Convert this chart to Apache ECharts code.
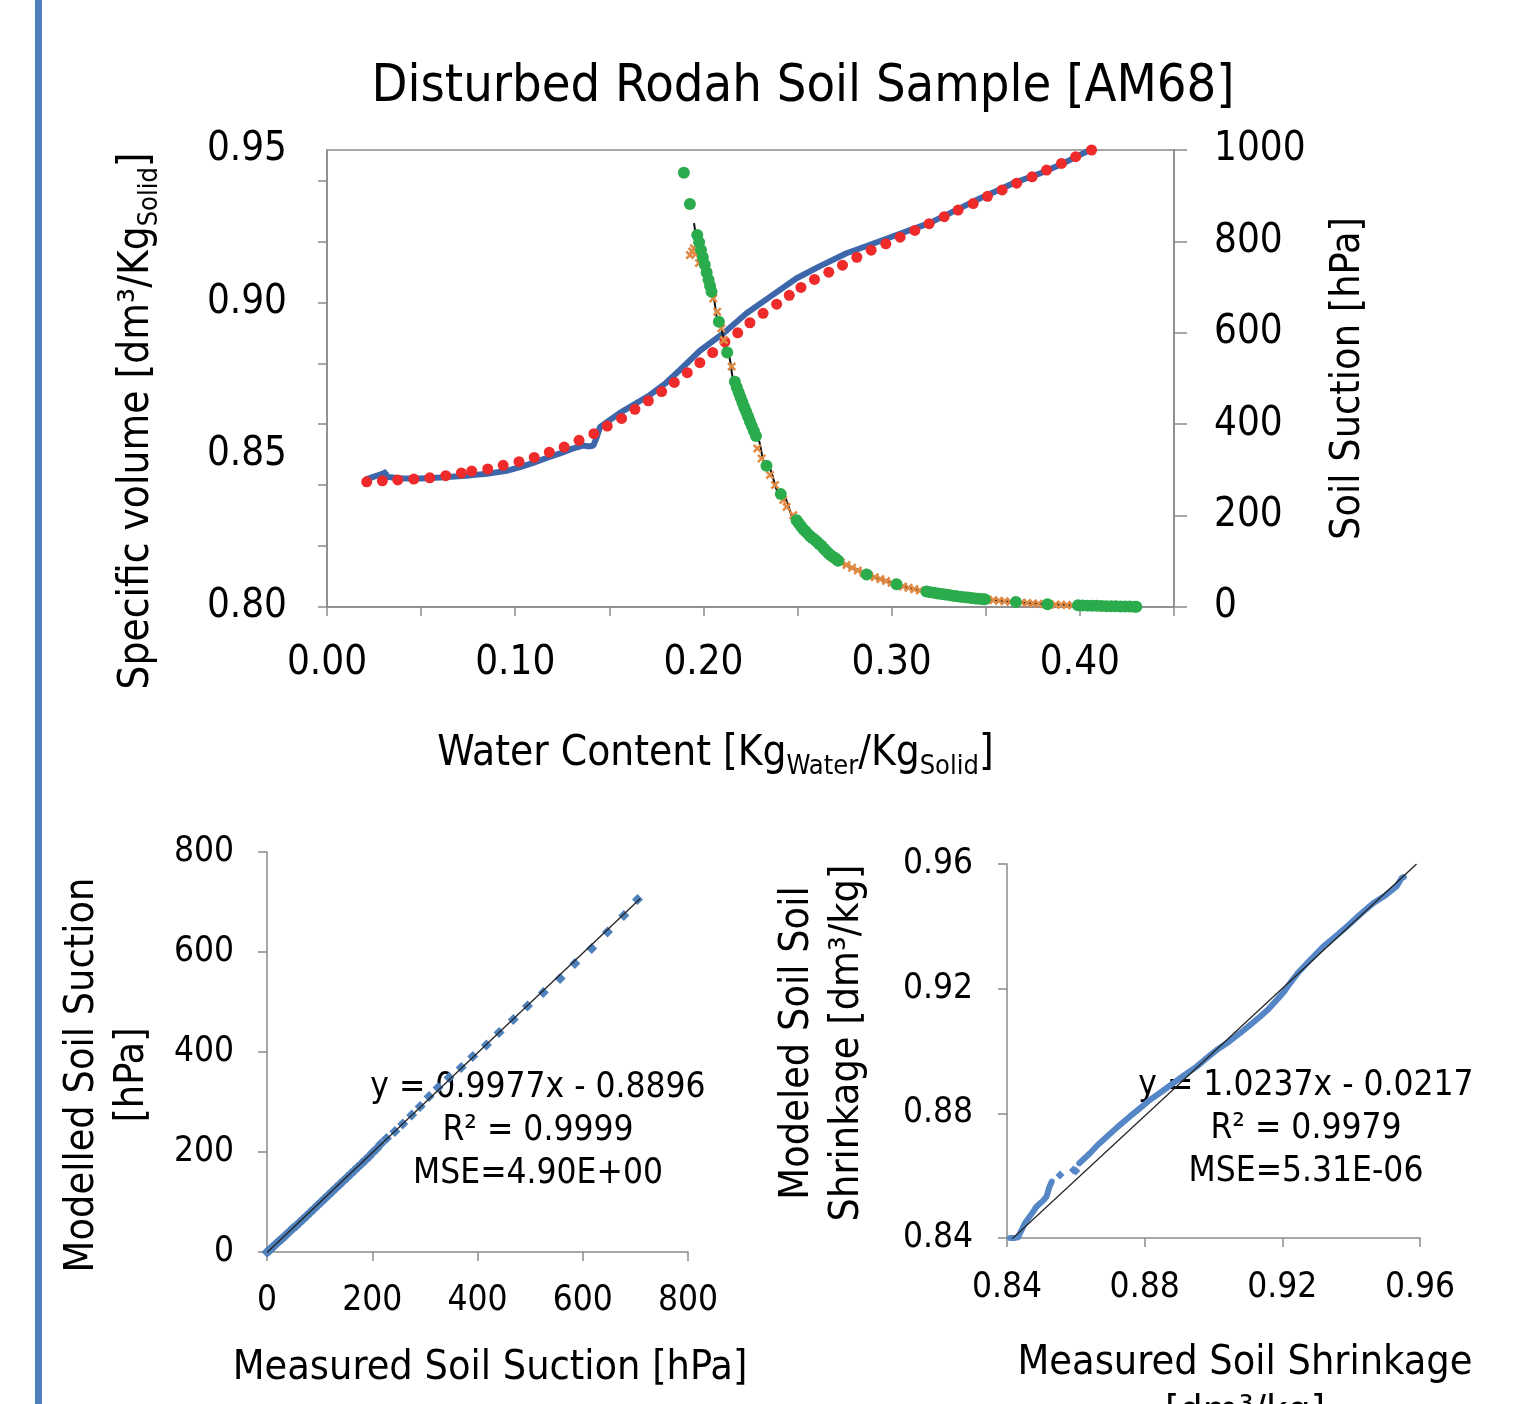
<!DOCTYPE html>
<html><head><meta charset="utf-8">
<script src="https://cdn.jsdelivr.net/npm/echarts@6/dist/echarts.min.js"></script>
<style>html,body{margin:0;padding:0;background:#fff}#c{width:1539px;height:1404px}</style>
</head><body><div id="c"></div><script>
// ---------- DATA ----------
// Top chart: specific volume (left axis) vs water content
const svMeasured = [[0.0205,0.8418],[0.0250,0.8428],[0.0290,0.8436],[0.0317,0.8444],[0.0300,0.8428],[0.0400,0.8422],[0.0500,0.8422],[0.0600,0.8425],[0.0760,0.8432],[0.0850,0.8437],[0.0954,0.8447],[0.1030,0.8460],[0.1095,0.8473],[0.1170,0.8490],[0.1238,0.8504],[0.1300,0.8519],[0.1360,0.8530],[0.1395,0.8527],[0.1415,0.8530],[0.1432,0.8555],[0.1450,0.8590],[0.1490,0.8608],[0.1556,0.8637],[0.1640,0.8668],[0.1716,0.8696],[0.1800,0.8735],[0.1875,0.8778],[0.1981,0.8841],[0.2105,0.8898],[0.2229,0.8964],[0.2353,0.9018],[0.2495,0.9079],[0.2619,0.9119],[0.2760,0.9161],[0.2867,0.9185],[0.3026,0.9221],[0.3097,0.9237],[0.3200,0.9260],[0.3291,0.9287],[0.3380,0.9314],[0.3468,0.9341],[0.3560,0.9366],[0.3645,0.9391],[0.3787,0.9423],[0.3911,0.9456],[0.4017,0.9489],[0.4053,0.9500]];
const svModel = [[0.0211,0.8411],[0.0294,0.8414],[0.0376,0.8417],[0.0461,0.8420],[0.0546,0.8424],[0.0631,0.8431],[0.0714,0.8440],[0.0769,0.8446],[0.0854,0.8453],[0.0936,0.8465],[0.1020,0.8477],[0.1101,0.8491],[0.1181,0.8508],[0.1260,0.8525],[0.1339,0.8547],[0.1418,0.8569],[0.1489,0.8594],[0.1565,0.8619],[0.1636,0.8649],[0.1707,0.8677],[0.1778,0.8707],[0.1845,0.8737],[0.1914,0.8769],[0.1981,0.8802],[0.2049,0.8835],[0.2114,0.8870],[0.2182,0.8900],[0.2247,0.8933],[0.2317,0.8964],[0.2389,0.8994],[0.2456,0.9023],[0.2518,0.9049],[0.2590,0.9075],[0.2666,0.9099],[0.2739,0.9122],[0.2815,0.9148],[0.2891,0.9171],[0.2969,0.9192],[0.3045,0.9214],[0.3123,0.9236],[0.3199,0.9258],[0.3279,0.9281],[0.3353,0.9303],[0.3433,0.9324],[0.3509,0.9348],[0.3587,0.9369],[0.3664,0.9391],[0.3746,0.9412],[0.3823,0.9434],[0.3902,0.9456],[0.3978,0.9478],[0.4062,0.9500]];
// Top chart: soil suction (right axis) vs water content
const suctionMeasuredA = [[0.1896,950],[0.1928,882],[0.1967,814],[0.1977,798],[0.1987,781],[0.1997,765],[0.2007,749],[0.2017,732],[0.2027,716],[0.2035,703],[0.2043,690],[0.2082,624],[0.2126,557],[0.2167,493],[0.2177,481],[0.2187,470],[0.2197,459],[0.2207,448],[0.2217,437],[0.2227,427],[0.2237,417],[0.2247,406],[0.2257,396],[0.2268,385],[0.2279,374],[0.2335,309],[0.2411,247],[0.2495,190],[0.2507,183],[0.2519,176],[0.2531,170],[0.2543,165],[0.2555,160],[0.2567,155],[0.2579,151],[0.2591,147],[0.2603,143],[0.2615,138],[0.2627,134],[0.2639,128],[0.2651,123],[0.2663,118],[0.2675,114],[0.2687,110],[0.2699,107],[0.2711,103],[0.2716,101],[0.2867,71],[0.3026,50],[0.3185,34],[0.3205,32.5],[0.3225,31],[0.3245,29.7],[0.3265,28.4],[0.3285,27.2],[0.3305,26],[0.3325,24.8],[0.3345,23.7],[0.3365,22.6],[0.3385,21.6],[0.3405,20.6],[0.3425,19.6],[0.3445,18.7],[0.3465,17.8],[0.3485,17.1],[0.3495,16.8],[0.3660,11],[0.3828,6],[0.3990,3.6],[0.4015,3.3],[0.4040,3.0],[0.4065,2.7],[0.4090,2.5],[0.4115,2.2],[0.4140,1.9],[0.4165,1.7],[0.4190,1.5],[0.4215,1.3],[0.4240,1.1],[0.4265,0.9],[0.4290,0.7],[0.4300,0.6]];
const suctionMeasuredB = [[0.1928,770],[0.1940,778],[0.1949,785],[0.1958,772],[0.1976,753],[0.2052,675],[0.2073,646],[0.2095,610],[0.2109,584],[0.2150,526],[0.2286,347],[0.2309,325],[0.2353,289],[0.2380,267],[0.2424,234],[0.2442,219],[0.2477,201],[0.2730,98],[0.2760,92],[0.2790,86],[0.2820,80],[0.2850,75],[0.2880,69],[0.2910,65],[0.2940,61],[0.2970,57],[0.3000,53],[0.3030,49],[0.3060,45],[0.3090,42],[0.3120,39],[0.3150,36],[0.3180,34],[0.3510,16.2],[0.3540,15],[0.3570,13.8],[0.3600,12.6],[0.3630,11.6],[0.3660,10.8],[0.3690,9.8],[0.3720,8.8],[0.3750,7.9],[0.3780,7.1],[0.3810,6.3],[0.3840,5.6],[0.3870,5.1],[0.3900,4.7],[0.3930,4.3],[0.3960,3.9],[0.3990,3.6]];
const suctionModel = [[0.1950,840],[0.2000,760],[0.2043,690],[0.2082,624],[0.2126,557],[0.2167,493],[0.2220,434],[0.2279,374],[0.2335,309],[0.2411,247],[0.2495,190],[0.2583,150],[0.2654,121],[0.2716,101],[0.2800,84],[0.2867,71.5],[0.2950,60],[0.3026,49.6],[0.3100,41],[0.3185,33.6],[0.3335,24],[0.3495,16.8],[0.3580,13.5],[0.3660,10.9],[0.3740,8.2],[0.3828,5.8],[0.3910,4.6],[0.3990,3.6],[0.4150,1.8],[0.4300,0.6]];
// Bottom-left: measured vs modelled suction
const suctionCompare = [[0,0],[3,2],[6,5],[10,9],[14,13],[18,17],[23,22],[28,26],[33,31],[38,36],[44,42],[50,48],[56,53],[62,59],[68,65],[75,72],[82,79],[89,86],[96,93],[103,100],[110,107],[117,114],[124,121],[131,128],[138,135],[145,142],[152,149],[159,156],[166,163],[173,170],[180,177],[187,184],[194,191],[201,199],[208,206],[216,216],[227,227],[243,241],[258,256],[275,274],[291,291],[308,311],[325,329],[346,349],[369,369],[391,391],[417,414],[441,439],[468,465],[495,492],[525,519],[557,547],[585,577],[617,607],[647,640],[678,673],[704,705]];
const suctionFit = [0.9977, -0.8896];
const suctionFitRange = [0, 709];
const suctionStats = ['0.9999', '4.90E+00'];
// Bottom-right: measured vs modelled shrinkage
const shrinkBand = [[0.8409,0.8400],[0.8420,0.8400],[0.8432,0.8402],[0.8440,0.8420],[0.8452,0.8447],[0.8470,0.8475],[0.8486,0.8501],[0.8505,0.8520],[0.8515,0.8533],[0.8522,0.8560],[0.8530,0.8581]];
const shrinkBand2 = [[0.8610,0.8640],[0.8641,0.8672],[0.8665,0.8700],[0.8690,0.8725],[0.8720,0.8755],[0.8757,0.8790],[0.8785,0.8815],[0.8815,0.8843],[0.8850,0.8870],[0.8883,0.8897],[0.8915,0.8922],[0.8951,0.8950],[0.8980,0.8977],[0.9009,0.9003],[0.9045,0.9030],[0.9077,0.9057],[0.9105,0.9082],[0.9135,0.9110],[0.9160,0.9135],[0.9184,0.9164],[0.9205,0.9190],[0.9222,0.9217],[0.9245,0.9250],[0.9271,0.9281],[0.9295,0.9308],[0.9319,0.9335],[0.9355,0.9368],[0.9387,0.9399],[0.9425,0.9437],[0.9464,0.9474],[0.9500,0.9500],[0.9532,0.9528],[0.9547,0.9555],[0.9553,0.9558]];
const shrinkIsolated = [[0.8554,0.8602],[0.8593,0.8618],[0.8600,0.8615]];
const shrinkFit = [1.0237, -0.0217];
const shrinkFitRange = [0.8413, 0.959];
const shrinkStats = ['0.9979', '5.31E-06'];
// Tick values
const svTicks = [0.80,0.82,0.84,0.86,0.88,0.90,0.92,0.94];
const svLabels = [0.80,0.85,0.90,0.95];
const wcLabels = [0,0.1,0.2,0.3,0.4];

// ---------- CHART ----------
const FONT = "'DejaVu Sans Condensed','DejaVu Sans',sans-serif";
const AX = '#8a8a8a';
const fitLine = (c, r) => r.map(x => [x, c[0]*x + c[1]]);
const fmtEq = c => 'y = ' + c[0].toFixed(4) + 'x ' + (c[1] < 0 ? '- ' : '+ ') + Math.abs(c[1]).toFixed(4);
const subRich = { sub: { fontSize: 27, verticalAlign: 'bottom', lineHeight: 24, fontFamily: FONT, color: '#000' } };
function axisBase(fs) {
  return {
    axisLine: { show: true, onZero: false, lineStyle: { color: AX, width: 1.5 } },
    axisTick: { show: true, length: 9, lineStyle: { color: AX, width: 1.5 } },
    splitLine: { show: false },
    axisLabel: { fontSize: fs, color: '#000', fontFamily: FONT },
    nameTextStyle: { fontSize: 41, color: '#000', fontFamily: FONT },
    nameLocation: 'middle'
  };
}
const chart = echarts.init(document.getElementById('c'), null, { renderer: 'canvas' });
const option = {
  animation: false,
  backgroundColor: '#fff',
  title: {
    text: 'Disturbed Rodah Soil Sample [AM68]',
    left: 803, top: 61, padding: 0, textAlign: 'center',
    textStyle: { fontSize: 52, fontWeight: 'normal', color: '#000', fontFamily: FONT }
  },
  grid: [
    { left: 327, top: 150, width: 847, height: 457, show: true, borderColor: AX, borderWidth: 1.5, outerBoundsMode: 'none', containLabel: false },
    { left: 267, top: 852, width: 421, height: 400, outerBoundsMode: 'none', containLabel: false },
    { left: 1007, top: 864, width: 413, height: 374, outerBoundsMode: 'none', containLabel: false }
  ],
  xAxis: [
    Object.assign(axisBase(40), {
      gridIndex: 0, type: 'value', min: 0, max: 0.45, interval: 0.05,
      axisLabel: { fontSize: 40, color: '#000', fontFamily: FONT, margin: 37, customValues: wcLabels, formatter: v => v.toFixed(2) },
      name: 'Water Content [Kg{sub|Water}/Kg{sub|Solid}]', nameGap: 121,
      nameTextStyle: { fontSize: 42, color: '#000', fontFamily: FONT, lineHeight: 52, padding: [0, 70, 0, 0], rich: subRich }
    }),
    Object.assign(axisBase(35), {
      gridIndex: 1, type: 'value', min: 0, max: 800, interval: 200,
      axisLabel: { fontSize: 35, color: '#000', fontFamily: FONT, margin: 31 },
      name: 'Measured Soil Suction [hPa]', nameGap: 91,
      nameTextStyle: { fontSize: 41, color: '#000', fontFamily: FONT, lineHeight: 50, padding: [0, 0, 0, 25] }
    }),
    Object.assign(axisBase(35), {
      gridIndex: 2, type: 'value', min: 0.84, max: 0.96, interval: 0.04,
      axisLabel: { fontSize: 35, color: '#000', fontFamily: FONT, margin: 32, formatter: v => v.toFixed(2) },
      name: 'Measured Soil Shrinkage\n[dm³/kg]', nameGap: 100,
      nameTextStyle: { fontSize: 41, color: '#000', fontFamily: FONT, lineHeight: 50, padding: [0, 0, 0, 63] }
    })
  ],
  yAxis: [
    Object.assign(axisBase(40), {
      gridIndex: 0, type: 'value', min: 0.80, max: 0.95, interval: 0.05, position: 'left',
      axisTick: { show: true, length: 9, customValues: svTicks, lineStyle: { color: AX, width: 1.5 } },
      axisLabel: { fontSize: 40, color: '#000', fontFamily: FONT, margin: 40, customValues: svLabels, formatter: v => v.toFixed(2) },
      name: 'Specific volume [dm³/Kg{sub|Solid}]', nameGap: 164, nameRotate: 90,
      nameTextStyle: { fontSize: 42, color: '#000', fontFamily: FONT, lineHeight: 52, padding: [0, 85, 0, 0], rich: subRich }
    }),
    Object.assign(axisBase(40), {
      gridIndex: 0, type: 'value', min: 0, max: 1000, interval: 200, position: 'right',
      axisTick: { show: true, length: 13, lineStyle: { color: AX, width: 1.5 } },
      axisLabel: { fontSize: 40, color: '#000', fontFamily: FONT, margin: 40, formatter: v => String(v) },
      name: 'Soil Suction [hPa]', nameGap: 150, nameRotate: 90,
      nameTextStyle: { fontSize: 41, color: '#000', fontFamily: FONT, lineHeight: 48 }
    }),
    Object.assign(axisBase(35), {
      gridIndex: 1, type: 'value', min: 0, max: 800, interval: 200,
      axisLabel: { fontSize: 35, color: '#000', fontFamily: FONT, margin: 33 },
      name: 'Modelled Soil Suction\n[hPa]', nameGap: 110, nameRotate: 90,
      nameTextStyle: { fontSize: 41, color: '#000', fontFamily: FONT, lineHeight: 50, padding: [0, 46, 0, 0] }
    }),
    Object.assign(axisBase(35), {
      gridIndex: 2, type: 'value', min: 0.84, max: 0.96, interval: 0.04,
      axisLabel: { fontSize: 35, color: '#000', fontFamily: FONT, margin: 34, formatter: v => v.toFixed(2) },
      name: 'Modeled Soil Soil\nShrinkage [dm³/kg]', nameGap: 135, nameRotate: 90,
      nameTextStyle: { fontSize: 41, color: '#000', fontFamily: FONT, lineHeight: 50, padding: [0, 0, 0, 16] }
    })
  ],
  series: [
    { name: 'Specific volume (measured)', type: 'line', xAxisIndex: 0, yAxisIndex: 0, data: svMeasured, showSymbol: false, z: 2,
      lineStyle: { color: '#3d67aa', width: 6 }, itemStyle: { color: '#3d67aa' } },
    { name: 'Specific volume (model)', type: 'scatter', xAxisIndex: 0, yAxisIndex: 0, data: svModel, symbolSize: 11, z: 3,
      itemStyle: { color: '#ee2a2a', opacity: 1 } },
    { name: 'Suction (model)', type: 'line', xAxisIndex: 0, yAxisIndex: 1, data: suctionModel, showSymbol: false, smooth: true, smoothMonotone: 'x', z: 3,
      lineStyle: { color: '#111', width: 2 } },
    { name: 'Suction (measured B)', type: 'scatter', xAxisIndex: 0, yAxisIndex: 1, data: suctionMeasuredB, symbolSize: 9, z: 4,
      symbol: 'path://M2,0 L5,3 L8,0 L10,2 L7,5 L10,8 L8,10 L5,7 L2,10 L0,8 L3,5 L0,2 Z',
      itemStyle: { color: '#df8a45', opacity: 1 } },
    { name: 'Suction (measured A)', type: 'scatter', xAxisIndex: 0, yAxisIndex: 1, data: suctionMeasuredA, symbolSize: 12, z: 5,
      itemStyle: { color: '#2aab4c', opacity: 1 } },

    { name: 'Suction comparison', type: 'scatter', xAxisIndex: 1, yAxisIndex: 2, data: suctionCompare, symbol: 'diamond', symbolSize: 11, z: 2,
      itemStyle: { color: '#4f81bd', opacity: 1 } },
    { name: 'Suction fit', type: 'line', xAxisIndex: 1, yAxisIndex: 2, data: fitLine(suctionFit, suctionFitRange), showSymbol: false, z: 3,
      lineStyle: { color: '#222', width: 1.3 } },

    { name: 'Shrinkage comparison A', type: 'line', xAxisIndex: 2, yAxisIndex: 3, data: shrinkBand, showSymbol: false, z: 2,
      lineStyle: { color: '#5586c6', width: 6, cap: 'round', join: 'round' } },
    { name: 'Shrinkage comparison B', type: 'line', xAxisIndex: 2, yAxisIndex: 3, data: shrinkBand2, showSymbol: false, z: 2,
      lineStyle: { color: '#5586c6', width: 6, cap: 'round', join: 'round' } },
    { name: 'Shrinkage comparison C', type: 'scatter', xAxisIndex: 2, yAxisIndex: 3, data: shrinkIsolated, symbol: 'diamond', symbolSize: 9, z: 2,
      itemStyle: { color: '#5586c6', opacity: 1 } },
    { name: 'Shrinkage fit', type: 'line', xAxisIndex: 2, yAxisIndex: 3, data: fitLine(shrinkFit, shrinkFitRange), showSymbol: false, z: 3,
      lineStyle: { color: '#222', width: 1.3 } }
  ],
  graphic: [
    { type: 'rect', left: 35, top: 0, shape: { width: 7, height: 1404 }, style: { fill: '#4f7fbd' }, silent: true },
    { type: 'text', x: 538, y: 1131, style: {
        text: fmtEq(suctionFit) + '\nR² = ' + suctionStats[0] + '\nMSE=' + suctionStats[1],
        font: '35px ' + FONT, fill: '#000', textAlign: 'center', textVerticalAlign: 'middle', lineHeight: 43 } },
    { type: 'text', x: 1306, y: 1129, style: {
        text: fmtEq(shrinkFit) + '\nR² = ' + shrinkStats[0] + '\nMSE=' + shrinkStats[1],
        font: '35px ' + FONT, fill: '#000', textAlign: 'center', textVerticalAlign: 'middle', lineHeight: 43 } }
  ]
};
chart.setOption(option);
</script></body></html>
